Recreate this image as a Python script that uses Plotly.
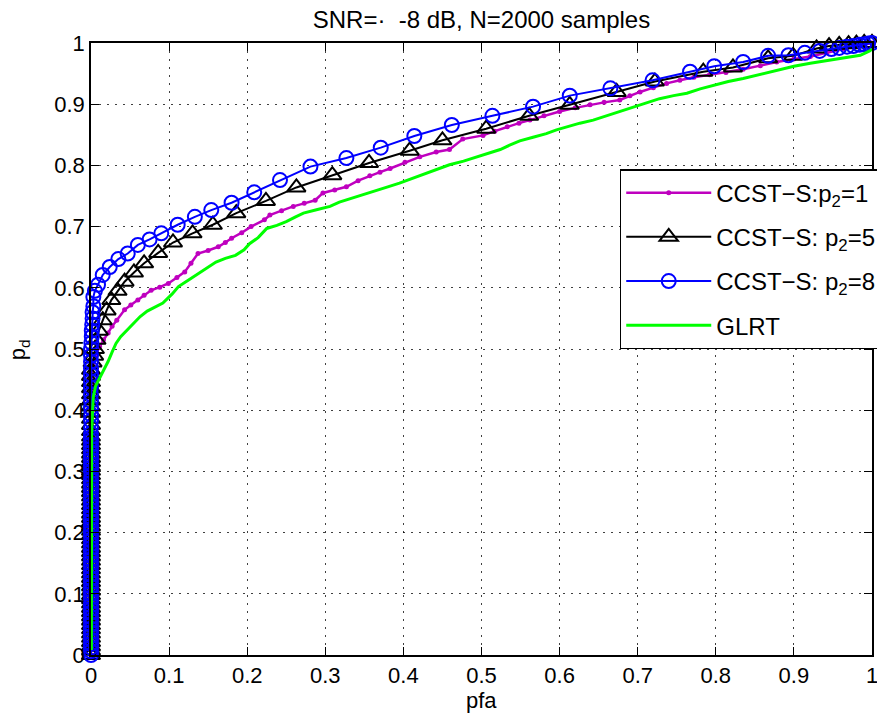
import plotly.graph_objects as go

# ---------------- data ----------------
title_text = "SNR=·\u00a0\u00a0-8 dB, N=2000 samples"
x_label = "pfa"
y_label = "p<sub>d</sub>"
tick_vals = [0, 0.1, 0.2, 0.3, 0.4, 0.5, 0.6, 0.7, 0.8, 0.9, 1]
tick_text = ["0", "0.1", "0.2", "0.3", "0.4", "0.5", "0.6", "0.7", "0.8", "0.9", "1"]

names = ["CCST−S:p<sub>2</sub>=1", "CCST−S: p<sub>2</sub>=5",
         "CCST−S: p<sub>2</sub>=8", "GLRT"]

# CCST-S p2=1 : points stacked at pfa = 0, then the curve
p1_stack_pd = [0.000, 0.010, 0.021, 0.031, 0.042, 0.052, 0.063, 0.073, 0.084, 0.094,
               0.105, 0.115, 0.126, 0.136, 0.147, 0.157, 0.168, 0.178, 0.189, 0.199,
               0.210, 0.220, 0.231, 0.241, 0.252, 0.262, 0.273, 0.283, 0.294, 0.304,
               0.315, 0.325, 0.336, 0.346, 0.357, 0.367, 0.378, 0.388, 0.399, 0.409,
               0.420, 0.430, 0.441, 0.451, 0.460]
p1_pfa = [0.003, 0.006, 0.011, 0.016, 0.022, 0.027, 0.033, 0.043, 0.051, 0.060,
          0.068, 0.077, 0.088, 0.099, 0.110, 0.120, 0.128, 0.137, 0.150, 0.163,
          0.172, 0.180, 0.193, 0.205, 0.222, 0.229, 0.244, 0.259, 0.273, 0.287,
          0.297, 0.312, 0.327, 0.342, 0.357, 0.370, 0.383, 0.402, 0.421, 0.442,
          0.459, 0.476, 0.502, 0.517, 0.533, 0.548, 0.562, 0.580, 0.600, 0.620,
          0.639, 0.657, 0.677, 0.690, 0.703, 0.720, 0.737, 0.754, 0.772, 0.792,
          0.813, 0.835, 0.857, 0.878, 0.900, 0.921, 0.942, 0.963, 0.982, 1.000]
p1_pd = [0.470, 0.490, 0.504, 0.515, 0.526, 0.537, 0.547, 0.564, 0.572, 0.580,
         0.588, 0.596, 0.601, 0.607, 0.617, 0.626, 0.640, 0.656, 0.661, 0.667,
         0.674, 0.681, 0.690, 0.700, 0.711, 0.719, 0.726, 0.733, 0.738, 0.743,
         0.755, 0.760, 0.765, 0.775, 0.783, 0.789, 0.795, 0.805, 0.814, 0.822,
         0.826, 0.843, 0.849, 0.856, 0.863, 0.869, 0.874, 0.881, 0.888, 0.894,
         0.899, 0.903, 0.907, 0.914, 0.920, 0.927, 0.934, 0.939, 0.944, 0.948,
         0.952, 0.957, 0.963, 0.969, 0.974, 0.978, 0.984, 0.990, 0.995, 1.000]

# CCST-S p2=5
p5_stack_pd = [0.000, 0.007, 0.014, 0.021, 0.028, 0.035, 0.042, 0.049, 0.056, 0.063,
               0.070, 0.077, 0.084, 0.091, 0.098, 0.105, 0.112, 0.119, 0.126, 0.133,
               0.140, 0.147, 0.154, 0.161, 0.168, 0.175, 0.182, 0.189, 0.196, 0.203,
               0.210, 0.217, 0.224, 0.231, 0.238, 0.245, 0.252, 0.259, 0.266, 0.273,
               0.280, 0.287, 0.294, 0.301, 0.308, 0.315, 0.322, 0.329, 0.336, 0.343,
               0.350, 0.357, 0.366, 0.376, 0.386, 0.396, 0.406, 0.416, 0.426, 0.436,
               0.446, 0.456, 0.466]
p5_pfa = [0.002, 0.004, 0.005, 0.007, 0.010, 0.015, 0.020, 0.026, 0.034, 0.043,
          0.055, 0.068, 0.086, 0.105, 0.130, 0.156, 0.186, 0.224, 0.263, 0.309,
          0.356, 0.408, 0.450, 0.506, 0.561, 0.613, 0.673, 0.722, 0.784, 0.822,
          0.867, 0.899, 0.929, 0.945, 0.958, 0.970, 0.980, 0.990, 1.000]
p5_pd = [0.478, 0.489, 0.500, 0.515, 0.530, 0.547, 0.563, 0.580, 0.595, 0.610,
         0.625, 0.640, 0.657, 0.674, 0.689, 0.703, 0.722, 0.742, 0.764, 0.784,
         0.804, 0.824, 0.841, 0.860, 0.881, 0.899, 0.920, 0.937, 0.953, 0.960,
         0.975, 0.979, 0.991, 0.995, 0.997, 0.998, 0.999, 1.000, 1.000]

# CCST-S p2=8
p8_stack_pd = [0.000, 0.006, 0.012, 0.018, 0.025, 0.031, 0.037, 0.043, 0.050, 0.056,
               0.062, 0.069, 0.075, 0.081, 0.087, 0.094, 0.100, 0.106, 0.112, 0.119,
               0.125, 0.131, 0.137, 0.144, 0.150, 0.156, 0.162, 0.169, 0.175, 0.181,
               0.187, 0.194, 0.200, 0.206, 0.212, 0.219, 0.225, 0.231, 0.237, 0.244,
               0.250, 0.256, 0.262, 0.269, 0.275, 0.281, 0.287, 0.294, 0.300, 0.306,
               0.312, 0.319, 0.325, 0.331, 0.337, 0.344, 0.350, 0.356, 0.362, 0.372,
               0.383, 0.393, 0.404, 0.415, 0.426, 0.437, 0.447, 0.458, 0.468, 0.479,
               0.489, 0.500]
p8_pfa = [0.0005, 0.001, 0.001, 0.0015, 0.002, 0.002, 0.003, 0.003, 0.005, 0.009,
          0.015, 0.024, 0.035, 0.047, 0.060, 0.075, 0.090, 0.111, 0.133, 0.154,
          0.180, 0.209, 0.242, 0.281, 0.327, 0.371, 0.414, 0.462, 0.514, 0.566,
          0.613, 0.665, 0.719, 0.767, 0.798, 0.835, 0.867, 0.893, 0.914, 0.933,
          0.948, 0.958, 0.968, 0.976, 0.984, 0.990, 0.995, 1.000]
p8_pd = [0.510, 0.520, 0.530, 0.540, 0.550, 0.560, 0.570, 0.585, 0.595, 0.605,
         0.621, 0.634, 0.647, 0.656, 0.670, 0.679, 0.689, 0.703, 0.716, 0.727,
         0.739, 0.756, 0.776, 0.798, 0.812, 0.829, 0.848, 0.866, 0.881, 0.896,
         0.914, 0.926, 0.939, 0.953, 0.962, 0.969, 0.979, 0.980, 0.984, 0.987,
         0.990, 0.992, 0.994, 0.995, 0.997, 0.998, 0.999, 1.000]

# GLRT
glrt_pfa = [0.0005, 0.0005, 0.0008, 0.002, 0.003, 0.006, 0.011, 0.016, 0.022, 0.027,
            0.032, 0.038, 0.044, 0.052, 0.063, 0.072, 0.082, 0.092, 0.104, 0.112,
            0.124, 0.136, 0.148, 0.160, 0.172, 0.185, 0.196, 0.203, 0.214, 0.225,
            0.238, 0.250, 0.262, 0.272, 0.290, 0.306, 0.318, 0.331, 0.348, 0.366,
            0.380, 0.395, 0.412, 0.430, 0.445, 0.459, 0.477, 0.494, 0.510, 0.524,
            0.536, 0.549, 0.566, 0.583, 0.596, 0.609, 0.626, 0.643, 0.660, 0.677,
            0.690, 0.703, 0.716, 0.728, 0.746, 0.763, 0.780, 0.797, 0.816, 0.835,
            0.857, 0.878, 0.900, 0.921, 0.940, 0.959, 0.975, 0.985, 0.997, 1.000]
glrt_pd = [0.008, 0.200, 0.360, 0.400, 0.422, 0.440, 0.452, 0.466, 0.480, 0.495,
           0.509, 0.520, 0.528, 0.540, 0.553, 0.562, 0.569, 0.575, 0.590, 0.602,
           0.612, 0.622, 0.633, 0.642, 0.648, 0.653, 0.662, 0.672, 0.682, 0.697,
           0.702, 0.708, 0.716, 0.722, 0.728, 0.733, 0.740, 0.745, 0.752, 0.759,
           0.765, 0.771, 0.779, 0.787, 0.795, 0.801, 0.807, 0.814, 0.820, 0.826,
           0.833, 0.840, 0.846, 0.852, 0.858, 0.863, 0.869, 0.874, 0.881, 0.888,
           0.894, 0.899, 0.905, 0.909, 0.914, 0.918, 0.925, 0.931, 0.937, 0.942,
           0.949, 0.956, 0.962, 0.967, 0.971, 0.975, 0.978, 0.980, 0.987, 0.990]

# ---------------- figure ----------------
FONT = "Liberation Sans, Arial, Helvetica, sans-serif"

x1 = [0.0] * len(p1_stack_pd) + p1_pfa
y1 = p1_stack_pd + p1_pd
x5 = [0.0] * len(p5_stack_pd) + p5_pfa
y5 = p5_stack_pd + p5_pd
x8 = [0.0] * len(p8_stack_pd) + p8_pfa
y8 = p8_stack_pd + p8_pd

fig = go.Figure()
fig.add_trace(go.Scatter(
    x=x1, y=y1, name=names[0], mode="lines+markers", legendgroup="a",
    line=dict(color="#BF00BF", width=2.5),
    marker=dict(symbol="circle", size=5, color="#BF00BF"),
    cliponaxis=False))
fig.add_trace(go.Scatter(
    x=x5, y=y5, name=names[1], mode="lines+markers", legendgroup="b",
    line=dict(color="#000000", width=2),
    marker=dict(symbol="triangle-up-open", size=16, color="#000000",
                line=dict(width=2, color="#000000")),
    cliponaxis=False))
fig.add_trace(go.Scatter(
    x=x8, y=y8, name=names[2], mode="lines+markers", legendgroup="c",
    line=dict(color="#0000FF", width=2),
    marker=dict(symbol="circle-open", size=14, color="#0000FF",
                line=dict(width=2, color="#0000FF")),
    cliponaxis=False))
fig.add_trace(go.Scatter(
    x=glrt_pfa, y=glrt_pd, name=names[3], mode="lines", legendgroup="d",
    line=dict(color="#00FF00", width=3),
    cliponaxis=False))

axis_common = dict(
    range=[0, 1], tickmode="array", tickvals=tick_vals, ticktext=tick_text,
    showline=True, linecolor="#000000", linewidth=1.5, mirror="allticks",
    ticks="inside", ticklen=8, tickwidth=1, tickcolor="#000000",
    showgrid=True, gridcolor="rgba(0,0,0,0.75)", gridwidth=1, griddash="2px,6px",
    zeroline=False, automargin=False, ticklabeloverflow="allow",
    tickfont=dict(family=FONT, size=22, color="#000000"),
)

fig.update_layout(
    width=877, height=717,
    margin=dict(l=91, r=5, t=43, b=62, autoexpand=False),
    paper_bgcolor="white", plot_bgcolor="white",
    title=dict(text=title_text, x=0.549, xanchor="center", y=0.972, yanchor="middle",
               font=dict(family=FONT, size=24, color="#000000")),
    xaxis=dict(**axis_common),
    yaxis=dict(**axis_common),
    showlegend=True,
    legend=dict(x=0.677, y=0.794, xanchor="left", yanchor="top",
                bgcolor="white", bordercolor="#000000", borderwidth=1.5,
                font=dict(family=FONT, size=24, color="#000000"),
                itemwidth=85, tracegroupgap=10),
    annotations=[
        dict(text=x_label, xref="paper", yref="paper", x=0.5, y=-0.074,
             xanchor="center", yanchor="middle", showarrow=False,
             font=dict(family=FONT, size=22, color="#000000")),
        dict(text=y_label, xref="paper", yref="paper", x=-0.092, y=0.498,
             xanchor="center", yanchor="middle", showarrow=False, textangle=-90,
             font=dict(family=FONT, size=22, color="#000000")),
    ],
)

fig.write_html("out.html")
